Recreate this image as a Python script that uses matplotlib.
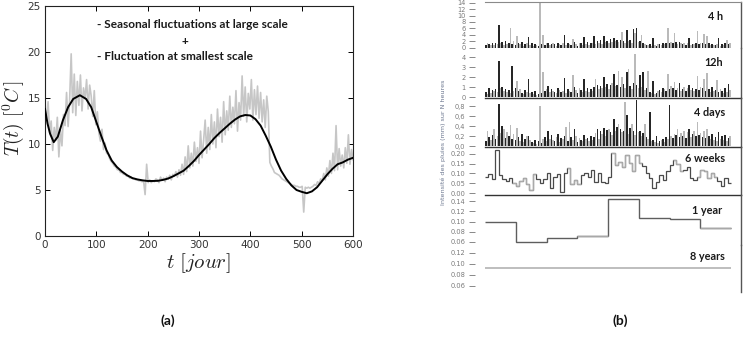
import numpy as np
import matplotlib
matplotlib.use("Agg")
import matplotlib.pyplot as plt

plt.rcParams['mathtext.fontset'] = 'cm'

# ---------------------------------------------------------------- data (a)
# temperature record sampled every 3 days
days_raw = np.arange(0, 601, 3)
temp_raw = [
    13.5, 12.8, 14.6, 11.2, 12.5, 9.3, 11.8, 10.4, 12.9, 8.6,
    11.5, 9.8, 13.2, 12.0, 15.6, 11.9, 14.8, 19.8, 13.4, 17.6,
    13.1, 16.8, 14.2, 17.5, 13.6, 16.1, 14.9, 17.0, 13.8, 16.4,
    15.2, 13.0, 15.8, 12.1, 13.5, 11.2, 10.3, 11.6, 9.4, 10.1,
    9.0, 8.9, 8.4, 8.1, 7.9, 7.6, 7.5, 7.2, 7.2, 6.9,
    6.9, 6.7, 6.7, 6.5, 6.5, 6.3, 6.4, 6.2, 6.2, 6.1,
    6.1, 6.0, 6.0, 5.9, 6.0, 4.5, 7.8, 5.8, 6.1, 5.8,
    6.0, 5.9, 6.2, 6.1, 5.8, 6.4, 6.1, 6.3, 5.9, 6.4,
    6.2, 6.6, 6.1, 6.7, 6.5, 7.0, 6.4, 7.2, 6.6, 7.8,
    6.7, 8.6, 7.0, 9.8, 7.4, 9.0, 7.6, 10.2, 8.1, 9.6,
    7.9, 11.4, 8.5, 10.4, 12.6, 9.0, 11.8, 9.4, 13.2, 10.0,
    12.4, 9.6, 13.8, 10.8, 12.9, 10.2, 14.6, 11.0, 13.6, 11.5,
    15.2, 11.8, 14.0, 12.2, 15.8, 11.4, 14.5, 12.6, 17.4, 13.0,
    16.2, 12.4, 15.5, 13.8, 17.0, 12.6, 15.9, 13.2, 16.3, 12.8,
    15.6, 12.4, 14.8, 11.8, 15.2, 13.5, 8.0, 7.6, 7.3, 6.9,
    6.8, 6.7, 6.6, 6.4, 6.2, 6.1, 6.0, 5.9, 5.8, 5.7,
    5.6, 5.5, 5.5, 5.4, 5.4, 5.3, 5.3, 5.4, 2.6, 5.3,
    5.2, 5.3, 5.2, 5.3, 5.4, 5.6, 5.5, 5.9, 5.7, 6.2,
    6.0, 6.8, 6.1, 7.4, 6.5, 8.2, 6.8, 9.0, 7.1, 12.0,
    7.2, 9.5, 7.6, 8.8, 7.4, 9.6, 7.9, 11.0, 7.8, 9.4,
    8.3,
]

# large-scale seasonal component
days_smooth = [0, 5, 10, 17, 25, 35, 45, 55, 68, 80, 90, 100, 110, 120, 130,
               140, 150, 160, 170, 180, 190, 200, 210, 220, 230, 240, 250,
               260, 270, 280, 290, 300, 310, 320, 330, 340, 350, 360, 370,
               380, 390, 400, 410, 420, 430, 440, 450, 460, 470, 480, 490,
               500, 510, 520, 530, 540, 550, 560, 570, 580, 590, 600]
temp_smooth = [13.8, 12.2, 11.1, 10.2, 10.8, 12.6, 14.0, 14.9, 15.3, 14.9,
               14.0, 12.4, 10.8, 9.3, 8.2, 7.5, 7.0, 6.6, 6.3, 6.15, 6.05,
               5.98, 5.98, 6.0, 6.1, 6.25, 6.5, 6.8, 7.1, 7.6, 8.15, 8.8,
               9.4, 10.0, 10.65, 11.2, 11.7, 12.2, 12.65, 13.0, 13.15, 13.1,
               12.7, 12.0, 10.9, 9.7, 8.3, 7.1, 6.2, 5.5, 5.0, 4.8, 4.65,
               4.85, 5.3, 6.0, 6.7, 7.3, 7.8, 8.0, 8.3, 8.5]

# ---------------------------------------------------------------- data (b)
rain_4h = [
    0.8, 1.6, 1.2, 0.9, 1.5, 0.7, 1.3, 1.1, 7.2, 1.4,
    1.7, 0.9, 2.0, 1.2, 1.5, 6.0, 1.1, 2.2, 0.9, 3.5,
    1.4, 1.0, 1.8, 0.6, 1.2, 1.5, 3.2, 0.8, 1.3, 0.5,
    1.0, 0.7, 0.6, 14.0, 1.1, 3.8, 0.9, 1.6, 1.4, 0.8,
    1.2, 1.5, 1.0, 0.6, 1.3, 1.1, 0.9, 1.4, 4.0, 0.7,
    1.5, 1.2, 0.8, 2.8, 1.9, 1.0, 0.6, 1.3, 1.6, 0.9,
    3.2, 1.1, 1.8, 0.7, 1.5, 1.3, 3.5, 1.0, 2.1, 1.6,
    2.4, 1.2, 3.6, 1.9, 2.2, 1.4, 2.6, 1.8, 3.0, 2.0,
    2.3, 1.7, 2.5, 5.0, 2.2, 1.6, 5.4, 2.0, 2.4, 1.5,
    5.8, 4.5, 6.0, 1.8, 2.0, 3.8, 1.4, 1.2, 0.9, 0.7,
    1.0, 0.6, 3.0, 0.8, 0.5, 1.2, 1.0, 0.7, 1.4, 1.1,
    1.6, 6.2, 1.3, 1.9, 1.5, 4.5, 1.7, 1.2, 1.9, 1.4,
    1.1, 1.6, 0.8, 1.3, 3.0, 0.9, 1.2, 1.0, 1.5, 5.3,
    1.1, 1.4, 1.6, 4.2, 1.0, 3.5, 1.3, 0.8, 1.2, 0.7,
    0.9, 1.1, 3.0, 0.6, 1.0, 0.8, 1.3, 2.5, 1.2, 1.4,
]
rain_12h = [
    0.5, 0.3, 0.9, 0.4, 0.7, 0.6, 0.8, 0.5, 3.6, 0.9,
    1.0, 0.6, 0.8, 0.5, 0.7, 0.4, 3.1, 0.6, 0.9, 1.6,
    0.6, 0.8, 0.4, 0.3, 0.7, 0.5, 1.8, 0.4, 0.5, 0.3,
    0.6, 0.2, 0.3, 5.5, 0.4, 2.5, 0.6, 0.8, 1.1, 0.5,
    0.8, 0.6, 0.5, 0.4, 0.9, 0.7, 0.5, 0.6, 1.9, 0.4,
    0.8, 0.6, 0.5, 2.2, 1.0, 0.7, 0.4, 0.9, 0.7, 0.5,
    1.8, 0.6, 0.9, 0.5, 0.8, 0.6, 1.0, 1.8, 1.2, 0.8,
    1.1, 0.9, 2.0, 1.0, 1.3, 0.8, 1.2, 1.4, 2.3, 1.1,
    1.2, 2.6, 1.0, 2.0, 1.3, 0.9, 2.5, 2.8, 1.1, 0.8,
    1.4, 4.3, 1.2, 0.9, 2.2, 1.0, 2.5, 0.7, 0.9, 2.6,
    0.5, 0.4, 1.6, 0.3, 0.4, 0.6, 0.7, 0.5, 0.9, 0.8,
    0.6, 2.3, 0.8, 1.1, 0.9, 1.5, 0.7, 0.9, 1.4, 0.6,
    0.8, 1.0, 0.6, 0.9, 1.2, 0.7, 0.9, 0.6, 0.8, 2.1,
    0.7, 1.0, 0.9, 1.8, 0.6, 2.4, 0.8, 0.5, 1.0, 0.6,
    0.7, 1.7, 0.5, 0.8, 0.6, 0.4, 0.9, 0.5, 1.3, 0.7,
]
rain_4d = [
    0.10, 0.30, 0.18, 0.12, 0.22, 0.34, 0.15, 0.20, 0.84, 0.26,
    0.40, 0.35, 0.16, 0.28, 0.20, 0.42, 0.14, 0.25, 0.12, 0.36,
    0.18, 0.10, 0.24, 0.08, 0.15, 0.20, 0.20, 0.12, 0.08, 0.06,
    0.12, 0.05, 0.10, 0.80, 0.06, 0.15, 0.18, 0.10, 0.30, 0.14,
    0.22, 0.12, 0.10, 0.18, 0.25, 0.08, 0.16, 0.14, 0.20, 0.38,
    0.10, 0.48, 0.18, 0.12, 0.35, 0.20, 0.08, 0.16, 0.12, 0.10,
    0.22, 0.14, 0.16, 0.10, 0.20, 0.12, 0.18, 0.26, 0.35, 0.14,
    0.30, 0.24, 0.36, 0.20, 0.32, 0.35, 0.28, 0.22, 0.55, 0.30,
    0.38, 0.45, 0.34, 0.28, 0.30, 0.88, 0.62, 0.25, 0.36, 0.45,
    0.30, 0.22, 0.92, 0.28, 0.30, 0.20, 0.26, 0.45, 0.18, 0.14,
    0.68, 0.10, 0.12, 0.08, 0.20, 0.06, 0.10, 0.12, 0.14, 0.08,
    0.18, 0.14, 0.82, 0.20, 0.16, 0.24, 0.22, 0.35, 0.18, 0.26,
    0.20, 0.30, 0.16, 0.28, 0.35, 0.18, 0.24, 0.30, 0.20, 0.48,
    0.22, 0.26, 0.18, 0.30, 0.16, 0.35, 0.20, 0.14, 0.24, 0.12,
    0.18, 0.10, 0.28, 0.14, 0.20, 0.12, 0.22, 0.10, 0.16, 0.20,
]
rain_6w = [
    0.084, 0.096, 0.070, 0.220, 0.092, 0.070, 0.063, 0.075, 0.053, 0.036,
    0.063, 0.075, 0.046, 0.016, 0.096, 0.070, 0.050, 0.070, 0.100, 0.024,
    0.080, 0.097, 0.007, 0.100, 0.130, 0.046, 0.067, 0.046, 0.092, 0.104,
    0.084, 0.120, 0.058, 0.104, 0.058, 0.050, 0.084, 0.203, 0.143, 0.160,
    0.135, 0.195, 0.152, 0.110, 0.195, 0.155, 0.138, 0.104, 0.075, 0.024,
    0.058, 0.092, 0.067, 0.110, 0.143, 0.168, 0.148, 0.115, 0.120, 0.135,
    0.075, 0.067, 0.080, 0.118, 0.110, 0.075, 0.100, 0.084, 0.063, 0.034,
    0.075, 0.050,
]
rain_1y = [0.100, 0.060, 0.067, 0.072, 0.145, 0.107, 0.104, 0.087]
rain_8y = [0.093]

panel_names = ["4 h", "12h", "4 days", "6 weeks", "1 year", "8 years"]
ylabel_b = "Intensité des pluies (mm) sur N heures"

# ---------------------------------------------------------------- figure
W, H = 752, 339
fig = plt.figure(figsize=(W / 100, H / 100), dpi=100)


def box(x0, y0, x1, y1):
    return [x0 / W, 1 - y1 / H, (x1 - x0) / W, (y1 - y0) / H]


def fx(x):
    return x / W


def fy(y):
    return 1 - y / H


# ---------------------------------------------------------------- panel (a)
ax = fig.add_axes(box(45, 6, 353, 236))
ax.plot(days_raw, temp_raw, color="#c6c6c6", lw=1.2, zorder=2)
ax.plot(days_smooth, temp_smooth, color="black", lw=1.4, zorder=3)
ax.set_xlim(0, 600)
ax.set_ylim(0, 25)
ax.set_xticks(range(0, 601, 100))
ax.set_yticks(range(0, 26, 5))
ax.tick_params(direction="in", length=3.5, width=0.7, top=True, right=True,
               labelsize=7.5, labelcolor="#333333", pad=3)
for s in ax.spines.values():
    s.set_linewidth(0.8)
    s.set_color("#222222")

fig.text(fx(13), fy(118), r"$T(t)\ [^0C\,]$", rotation=90, fontsize=14,
         ha="center", va="center", color="#222222")
fig.text(fx(198), fy(263), r"$t\ [jour]$", fontsize=15,
         ha="center", va="center", color="#222222")

ann = dict(fontsize=8.6, fontweight="bold", family="Lato", color="#1a1a1a")
fig.text(fx(97), fy(24), "- Seasonal fluctuations at large scale",
         ha="left", va="center", **ann)
fig.text(fx(185), fy(41), "+", ha="center", va="center", **ann)
fig.text(fx(97), fy(57), "- Fluctuation at smallest scale",
         ha="left", va="center", **ann)

lab = dict(fontsize=10, fontweight="bold", family="Lato", color="#111111",
           ha="center", va="center")
fig.text(fx(168), fy(321), "(a)", **lab)
fig.text(fx(620), fy(321), "(b)", **lab)

# ---------------------------------------------------------------- panel (b)
XL, XR = 485, 741
rows = [(2, 48), (48, 98), (98, 147), (147, 195), (195, 245), (245, 292)]
ylims = [(-0.1, 14.2), (-0.05, 4.9), (-0.02, 0.96), (-0.01, 0.235),
         (0.054, 0.152), (0.049, 0.1345)]
yticks = [list(range(0, 15, 2)), [0, 1, 2, 3, 4], [0, 0.2, 0.4, 0.6, 0.8],
          [0, 0.05, 0.10, 0.15, 0.20], [0.06, 0.08, 0.10, 0.12, 0.14],
          [0.06, 0.08, 0.10, 0.12]]
yfmt = ["{:.0f}", "{:.0f}", "{:.1f}", "{:.2f}", "{:.2f}", "{:.2f}"]
data_span = (731 - XL) / (XR - XL)

dark, light = "#262626", "#bababa"
axes_b = []
for k, ((y0, y1), yl) in enumerate(zip(rows, ylims)):
    a = fig.add_axes(box(XL, y0, XR, y1))
    a.set_facecolor("none")
    a.set_ylim(*yl)
    a.set_yticks(yticks[k])
    labels = [yfmt[k].format(v) for v in yticks[k]]
    if k == 2:
        labels = [t.replace(".", ",") for t in labels]
    a.set_yticklabels(labels)
    a.set_xticks([])
    a.tick_params(axis="y", direction="out", length=4, width=0.7,
                  color="#888888", labelsize=4.8, labelcolor="#7a7a7a", pad=3)
    a.spines["left"].set_position(("outward", 7))
    a.spines["left"].set_visible(False)
    a.spines["right"].set_color("#555555")
    a.spines["right"].set_linewidth(1.0)
    a.spines["top"].set_visible(k == 0)
    a.spines["top"].set_color("#8a8a8a")
    a.spines["bottom"].set_visible(k in (1, 2, 3))
    a.spines["bottom"].set_color("#333333")
    a.spines["bottom"].set_linewidth(1.0)
    axes_b.append(a)

# spiky series: alternating dark / light bars
for a, vals in zip(axes_b[:3], [rain_4h, rain_12h, rain_4d]):
    n = len(vals)
    idx = np.arange(n)
    cols = [dark if i % 2 == 0 else light for i in idx]
    a.bar(idx, vals, width=0.95, color=cols, linewidth=0)
    a.set_xlim(-0.5, -0.5 + n / data_span)

# 6-week means as a staircase
a = axes_b[3]
n6 = len(rain_6w)
edges6 = np.arange(n6 + 1)
a.stairs(rain_6w, edges6, color="#4a4a4a", lw=0.9, baseline=None)
for s0, s1 in [(8, 15), (24, 28), (37, 46), (55, 58), (62, 68)]:
    a.stairs(rain_6w[s0:s1], edges6[s0:s1 + 1], color="#aaaaaa", lw=0.9,
             baseline=None)
a.set_xlim(0, n6 / data_span)

# yearly means
a = axes_b[4]
n1 = len(rain_1y)
edges1 = np.arange(n1 + 1)
a.stairs(rain_1y, edges1, color="#5e5e5e", lw=1.0, baseline=None)
for s0, s1 in [(3, 4), (7, 8)]:
    a.stairs(rain_1y[s0:s1], edges1[s0:s1 + 1], color="#a8a8a8", lw=1.0,
             baseline=None)
a.set_xlim(0, n1 / data_span)

# whole-period mean
a = axes_b[5]
a.stairs(rain_8y, [0, 1], color="#b3b3b3", lw=1.2, baseline=None)
a.set_xlim(0, 1 / data_span)

name_pos = [(723, 17), (723, 62), (725, 113), (725, 158), (722, 210),
            (725, 257)]
for name, (x, y) in zip(panel_names, name_pos):
    fig.text(fx(x), fy(y), name, ha="right", va="center", fontsize=7.8,
             fontweight="bold", family="Lato", color="#1a1a1a")

fig.text(fx(443), fy(142), ylabel_b, rotation=90, ha="center", va="center",
         fontsize=4.6, color="#6d7890")

fig.savefig("out.png", dpi=100)
